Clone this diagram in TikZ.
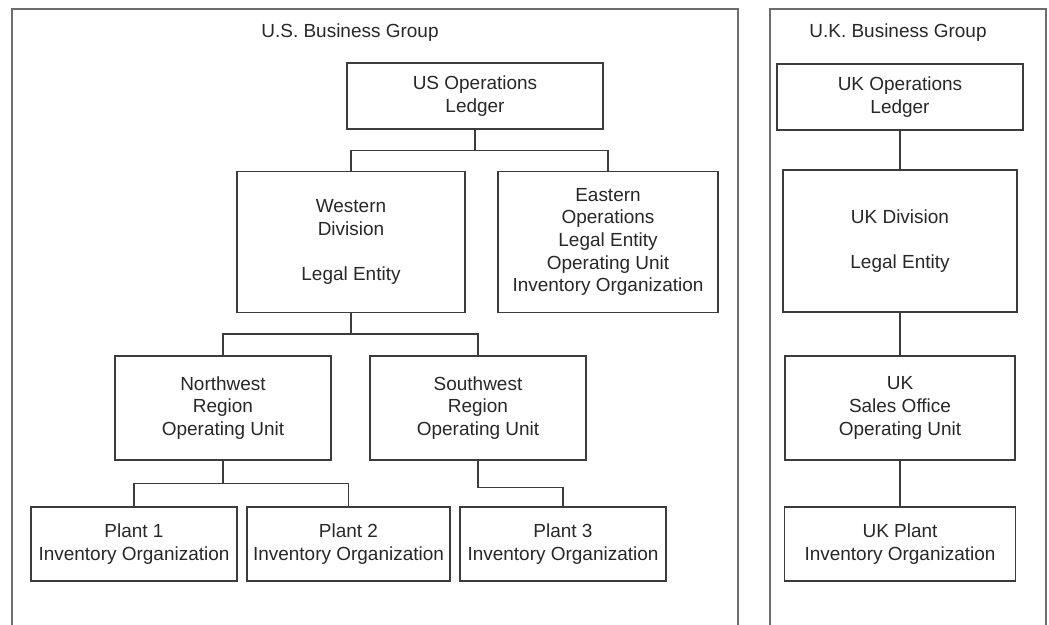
\documentclass[tikz,border=0pt]{standalone}
\usepackage{fontspec}
\setmainfont{Liberation Sans}
\usepackage{tikz}
\usetikzlibrary{positioning}
\definecolor{boxline}{RGB}{60, 60, 60}
\definecolor{groupline}{RGB}{110, 110, 110}
\definecolor{labeltext}{RGB}{40, 40, 40}

\begin{document}
\begin{tikzpicture}[
    x=0.02cm, y=-0.02cm,
    orgbox/.style={draw=boxline, line width=0.85pt, fill=white, inner sep=0pt, align=center, text=labeltext, font=\fontsize{10.8}{12.9}\selectfont},
    groupbox/.style={draw=groupline, line width=1.2pt},
    grouptitle/.style={text=labeltext, font=\fontsize{10.8}{12.9}\selectfont},
    link/.style={draw=boxline, line width=0.85pt}
]
    \clip (0,0) rectangle (1049,625);
    \fill[white] (0,0) rectangle (1049,625);

    % Business groups
    \draw[groupbox] (12,9) rectangle (738,640);
    \node[grouptitle] (ustitle) at (350,33) {U.S. Business Group};
    \draw[groupbox] (770,9) rectangle (1046,640);
    \node[grouptitle] (uktitle) at (898,33) {U.K. Business Group};

    % U.S. Business Group
    \node[orgbox, minimum width=5.12cm, minimum height=1.32cm] (usledger) at (475,96) {US Operations\\Ledger};
    \node[orgbox, minimum width=4.56cm, minimum height=2.82cm] (western) at (351,242) {Western\\Division\\[12.9pt]Legal Entity};
    \node[orgbox, minimum width=4.4cm, minimum height=2.82cm] (eastern) at (608,242) {Eastern\\Operations\\Legal Entity\\Operating Unit\\Inventory Organization};
    \node[orgbox, minimum width=4.32cm, minimum height=2.08cm] (nwregion) at (223,408) {Northwest\\Region\\Operating Unit};
    \node[orgbox, minimum width=4.32cm, minimum height=2.08cm] (swregion) at (478,408) {Southwest\\Region\\Operating Unit};
    \node[orgbox, minimum width=4.12cm, minimum height=1.48cm] (plantone) at (134,544) {Plant 1\\Inventory Organization};
    \node[orgbox, minimum width=4.06cm, minimum height=1.48cm] (planttwo) at (348.5,544) {Plant 2\\Inventory Organization};
    \node[orgbox, minimum width=4.12cm, minimum height=1.48cm] (plantthree) at (563,544) {Plant 3\\Inventory Organization};

    \draw[link] (usledger.south) -- ++(0,21) -| (western.north);
    \draw[link] (usledger.south) -- ++(0,21) -| (eastern.north);
    \draw[link] (western.south) -- ++(0,21) -| (nwregion.north);
    \draw[link] (western.south) -- ++(0,21) -| (swregion.north);
    \draw[link] (nwregion.south) -- ++(0,23) -| (plantone.north);
    \draw[link] (nwregion.south) -- ++(0,23) -| (planttwo.north);
    \draw[link] (swregion.south) -- ++(0,27) -| (plantthree.north);

    % U.K. Business Group
    \node[orgbox, minimum width=4.92cm, minimum height=1.32cm] (ukledger) at (900,97) {UK Operations\\Ledger};
    \node[orgbox, minimum width=4.68cm, minimum height=2.84cm] (ukdivision) at (900,241) {UK Division\\[12.9pt]Legal Entity};
    \node[orgbox, minimum width=4.6cm, minimum height=2.08cm] (uksales) at (900,408) {UK\\Sales Office\\Operating Unit};
    \node[orgbox, minimum width=4.62cm, minimum height=1.48cm] (ukplant) at (900,544) {UK Plant\\Inventory Organization};

    \draw[link] (ukledger) -- (ukdivision);
    \draw[link] (ukdivision) -- (uksales);
    \draw[link] (uksales) -- (ukplant);

\end{tikzpicture}
\end{document}
